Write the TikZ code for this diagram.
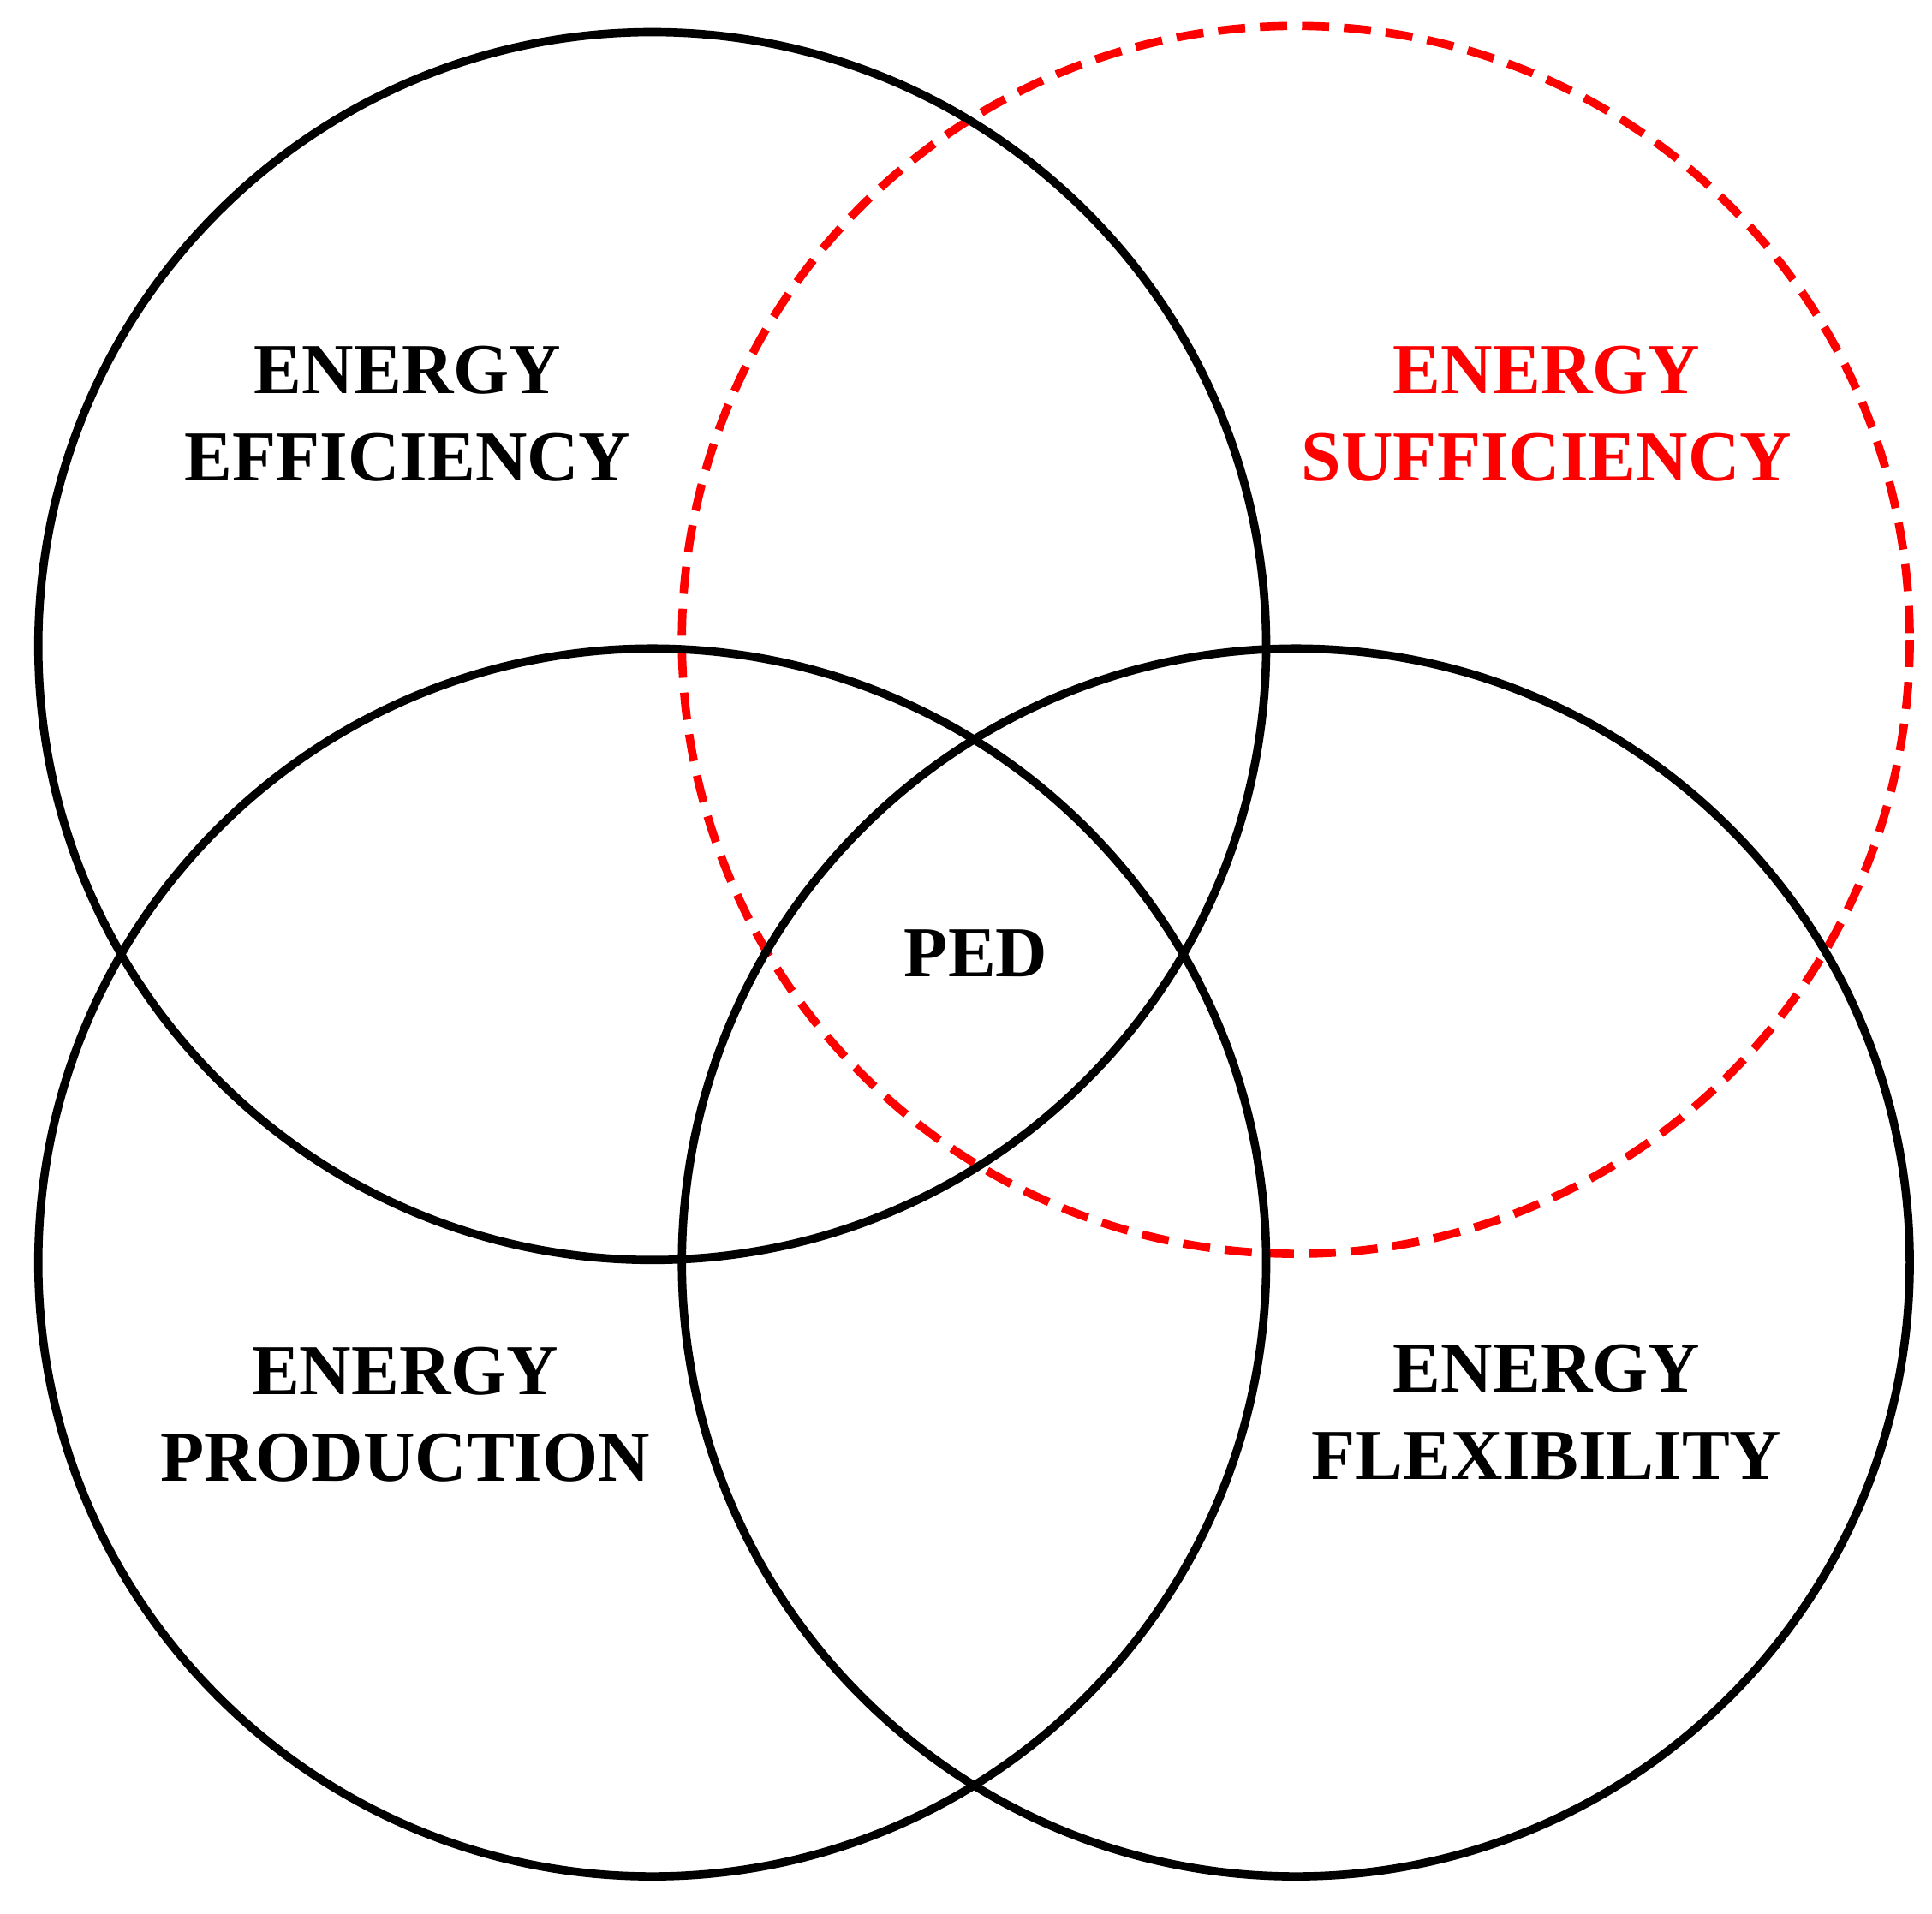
\documentclass[tikz,border=0pt]{standalone}
\usepackage{fontspec}
\setmainfont{Liberation Serif}
\begin{document}
\begin{tikzpicture}[x=0.01cm,y=-0.01cm,
  ring/.style={draw=black,line width=1.9pt},
  redring/.style={draw=red,line width=1.9pt,dash pattern=on 0.22cm off 0.12cm},
  lbl/.style={font=\fontsize{16.5}{20}\selectfont\bfseries,align=center,inner sep=0pt}]
\useasboundingbox (0,0) rectangle (1564,1549);
\draw[redring] (1049,518) circle[radius=497];
\draw[ring] (528,523) circle[radius=497];
\draw[ring] (528,1022) circle[radius=497];
\draw[ring] (1049,1022) circle[radius=497];
\node[lbl] (eff) at (330,335) {ENERGY\\EFFICIENCY};
\node[lbl,text=red] (suf) at (1252,335) {ENERGY\\SUFFICIENCY};
\node[lbl] (prod) at (328,1145) {ENERGY\\PRODUCTION};
\node[lbl] (flex) at (1252,1143) {ENERGY\\FLEXIBILITY};
\node[lbl] (ped) at (790,772) {PED};
\end{tikzpicture}
\end{document}
